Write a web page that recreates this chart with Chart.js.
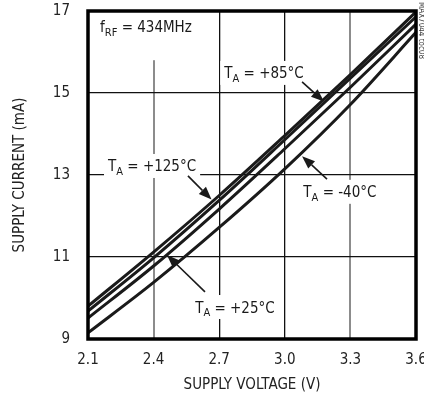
<!DOCTYPE html>
<html>
<head>
<meta charset="utf-8">
<script src="https://cdn.jsdelivr.net/npm/chart.js@4.4.1/dist/chart.umd.min.js"></script>
<style>
  html, body { margin: 0; padding: 0; background: #fff; }
  #wrap { width: 424px; height: 405px; }
</style>
</head>
<body>
<div id="wrap"><canvas id="c" width="424" height="405"></canvas></div>
<script>
const voltages = [2.1, 2.4, 2.7, 3.0, 3.3, 3.6];
const current125 = [9.80, 11.12, 12.50, 13.96, 15.45, 16.98];
const current85 = [9.68, 10.98, 12.38, 13.86, 15.36, 16.86];
const current25 = [9.51, 10.78, 12.17, 13.64, 15.14, 16.68];
const currentM40 = [9.15, 10.38, 11.72, 13.15, 14.72, 16.48];
const xTicks = [2.1, 2.4, 2.7, 3.0, 3.3, 3.6];
const yTicks = [9, 11, 13, 15, 17];
const grayGrid = [2.4, 3.3];

const FONT = '"Liberation Sans Narrow", "DejaVu Sans Condensed", sans-serif';
const INK = '#1a1a1a';

// label text pieces, label centre and arrow in data units
const tempNotes = [
  { sub: 'A', rest: ' = +85°C', x: 2.905, y: 15.49, from: [3.079, 15.27], to: [3.179, 14.79] },
  { sub: 'A', rest: ' = +125°C', x: 2.393, y: 13.22, from: [2.557, 12.98], to: [2.665, 12.40] },
  { sub: 'A', rest: ' = -40°C', x: 3.252, y: 12.59, from: [3.193, 12.90], to: [3.079, 13.46] },
  { sub: 'A', rest: ' = +25°C', x: 2.772, y: 9.78, from: [2.635, 10.15], to: [2.461, 11.05] }
];

function pts(ys) {
  return voltages.map((v, i) => ({ x: v, y: ys[i] }));
}

function measureNote(ctx, main, sub, rest) {
  ctx.font = '15px ' + FONT;
  const w1 = ctx.measureText(main).width;
  const w3 = ctx.measureText(rest).width;
  ctx.font = '11px ' + FONT;
  const w2 = ctx.measureText(sub).width;
  return { w1, w2, w3, total: w1 + w2 + w3 };
}

function drawNote(ctx, main, sub, rest, left, cy) {
  const m = measureNote(ctx, main, sub, rest);
  const base = cy + 5.5;
  ctx.fillStyle = INK;
  ctx.textAlign = 'left';
  ctx.textBaseline = 'alphabetic';
  ctx.font = '15px ' + FONT;
  ctx.fillText(main, left, base);
  ctx.font = '11px ' + FONT;
  ctx.fillText(sub, left + m.w1, base + 3.5);
  ctx.font = '15px ' + FONT;
  ctx.fillText(rest, left + m.w1 + m.w2, base);
}

function drawArrow(ctx, x1, y1, x2, y2) {
  const ang = Math.atan2(y2 - y1, x2 - x1);
  const len = 13, half = 5;
  const bx = x2 - len * Math.cos(ang), by = y2 - len * Math.sin(ang);
  ctx.strokeStyle = INK;
  ctx.lineWidth = 1.6;
  ctx.beginPath();
  ctx.moveTo(x1, y1);
  ctx.lineTo(bx, by);
  ctx.stroke();
  ctx.fillStyle = INK;
  ctx.beginPath();
  ctx.moveTo(x2, y2);
  ctx.lineTo(bx + half * Math.sin(ang), by - half * Math.cos(ang));
  ctx.lineTo(bx - half * Math.sin(ang), by + half * Math.cos(ang));
  ctx.closePath();
  ctx.fill();
}

const notesPlugin = {
  id: 'notes',
  beforeDatasetsDraw(chart) {
    const { ctx, scales: { x, y }, chartArea } = chart;
    ctx.save();
    ctx.fillStyle = '#fff';
    tempNotes.forEach(n => {
      const m = measureNote(ctx, 'T', n.sub, n.rest);
      const cx = x.getPixelForValue(n.x), cy = y.getPixelForValue(n.y);
      ctx.fillRect(cx - m.total / 2 - 4, cy - 12, m.total + 8, 24);
    });
    // frequency note box reaches further down the 2.4 V grid line
    const fx = x.getPixelForValue(2.155);
    ctx.fillRect(fx - 4, chartArea.top, 100, y.getPixelForValue(15.8) - chartArea.top);
    ctx.restore();
  },
  afterDatasetsDraw(chart) {
    const { ctx, scales: { x, y }, chartArea } = chart;
    ctx.save();
    tempNotes.forEach(n => {
      const m = measureNote(ctx, 'T', n.sub, n.rest);
      const cx = x.getPixelForValue(n.x), cy = y.getPixelForValue(n.y);
      drawNote(ctx, 'T', n.sub, n.rest, cx - m.total / 2, cy);
      drawArrow(ctx, x.getPixelForValue(n.from[0]), y.getPixelForValue(n.from[1]),
        x.getPixelForValue(n.to[0]), y.getPixelForValue(n.to[1]));
    });
    drawNote(ctx, 'f', 'RF', ' = 434MHz', x.getPixelForValue(2.155), y.getPixelForValue(16.61));

    // plot frame
    ctx.strokeStyle = '#000';
    ctx.lineWidth = 3.5;
    ctx.strokeRect(chartArea.left, chartArea.top, chartArea.right - chartArea.left, chartArea.bottom - chartArea.top);

    // figure tag on the right edge
    ctx.translate(chartArea.right + 5, 2);
    ctx.rotate(Math.PI / 2);
    ctx.font = '8px ' + FONT;
    ctx.fillStyle = '#444';
    ctx.textAlign = 'left';
    ctx.textBaseline = 'middle';
    ctx.fillText('MAX7044 toc08', 0, 0);
    ctx.restore();
  }
};

const lineStyle = {
  borderColor: INK,
  borderWidth: 3,
  pointRadius: 0,
  fill: false,
  cubicInterpolationMode: 'monotone'
};

new Chart(document.getElementById('c'), {
  type: 'line',
  data: {
    datasets: [
      { label: 'TA = +125°C', data: pts(current125), ...lineStyle },
      { label: 'TA = +85°C', data: pts(current85), ...lineStyle },
      { label: 'TA = +25°C', data: pts(current25), ...lineStyle },
      { label: 'TA = -40°C', data: pts(currentM40), ...lineStyle }
    ]
  },
  options: {
    responsive: false,
    devicePixelRatio: 1,
    animation: false,
    layout: { padding: { top: 11, right: 8, left: 0, bottom: 0 } },
    plugins: { legend: { display: false }, tooltip: { enabled: false } },
    scales: {
      x: {
        type: 'linear',
        min: 2.1,
        max: 3.6,
        afterBuildTicks: s => { s.ticks = xTicks.map(v => ({ value: v })); },
        afterFit: s => { s.height = 66; s.paddingLeft = 0; s.paddingRight = 0; },
        border: { display: false },
        grid: {
          drawTicks: false,
          color: c => grayGrid.includes(c.tick.value) ? '#8c8c8c' : '#111',
          lineWidth: c => grayGrid.includes(c.tick.value) ? 2 : 1.3
        },
        ticks: {
          padding: 12,
          maxRotation: 0,
          color: '#222',
          font: { family: FONT, size: 15 },
          callback: v => Number(v).toFixed(1)
        },
        title: {
          display: true,
          text: 'SUPPLY VOLTAGE (V)',
          color: '#222',
          font: { family: FONT, size: 15 },
          padding: { top: 0, bottom: 11 }
        }
      },
      y: {
        min: 9,
        max: 17,
        afterBuildTicks: s => { s.ticks = yTicks.map(v => ({ value: v })); },
        afterFit: s => { s.width = 88; s.paddingTop = 0; s.paddingBottom = 0; },
        border: { display: false },
        grid: { drawTicks: false, color: '#111', lineWidth: 1.3 },
        ticks: {
          padding: 18,
          color: '#222',
          font: { family: FONT, size: 15 },
          callback: v => String(v)
        },
        title: {
          display: true,
          text: 'SUPPLY CURRENT (mA)',
          color: '#222',
          font: { family: FONT, size: 15 },
          padding: { top: 11, bottom: 0 }
        }
      }
    }
  },
  plugins: [notesPlugin]
});
</script>
</body>
</html>
